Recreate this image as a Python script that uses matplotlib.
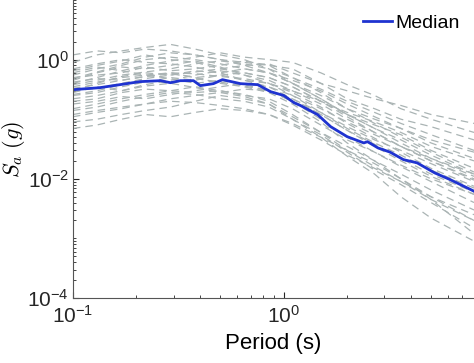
"""
Response spectra of the record set with their median
"""
import matplotlib
matplotlib.use('Agg')
import matplotlib.pyplot as plt
from matplotlib.ticker import LogLocator, NullFormatter

plt.rcParams['font.family'] = ['Liberation Sans', 'DejaVu Sans']

# periods (s) shared by every record
periods = [0.1, 0.13, 0.17, 0.22, 0.29, 0.38, 0.5, 0.65, 0.85, 1.1,
           1.5, 2.0, 2.7, 3.6, 5.0, 8.0]

# spectral accelerations (g), one row per ground motion
records = [
    [0.55, 0.70, 0.85, 1.10, 1.30, 1.20, 1.00, 0.90, 0.80, 0.70, 0.40, 0.30, 0.22, 0.17, 0.12, 0.085],
    [0.30, 0.40, 0.52, 0.60, 0.55, 0.62, 0.70, 0.80, 0.85, 0.60, 0.40, 0.22, 0.15, 0.10, 0.075, 0.045],
    [0.12, 0.14, 0.16, 0.18, 0.20, 0.19, 0.17, 0.15, 0.12, 0.08, 0.045, 0.025, 0.015, 0.009, 0.005, 0.0025],
    [0.45, 0.60, 0.75, 0.70, 0.80, 0.95, 0.75, 0.55, 0.40, 0.25, 0.13, 0.070, 0.040, 0.025, 0.014, 0.007],
    [0.25, 0.28, 0.35, 0.42, 0.50, 0.45, 0.55, 0.60, 0.50, 0.35, 0.20, 0.12, 0.080, 0.055, 0.030, 0.015],
    [0.90, 1.20, 1.40, 1.60, 1.80, 1.50, 1.20, 1.00, 0.70, 0.40, 0.22, 0.12, 0.070, 0.045, 0.025, 0.012],
    [0.20, 0.22, 0.28, 0.32, 0.30, 0.28, 0.30, 0.26, 0.20, 0.12, 0.060, 0.030, 0.016, 0.009, 0.0045, 0.002],
    [0.60, 0.75, 0.65, 0.80, 0.95, 1.10, 1.30, 1.10, 1.00, 0.90, 0.60, 0.38, 0.25, 0.15, 0.10, 0.06],
    [0.15, 0.18, 0.22, 0.26, 0.30, 0.35, 0.30, 0.25, 0.22, 0.15, 0.080, 0.045, 0.028, 0.016, 0.009, 0.004],
    [0.35, 0.42, 0.50, 0.55, 0.48, 0.40, 0.45, 0.38, 0.30, 0.20, 0.10, 0.050, 0.028, 0.017, 0.010, 0.0055],
    [0.50, 0.55, 0.60, 0.75, 0.65, 0.70, 0.80, 0.95, 0.80, 0.50, 0.28, 0.15, 0.085, 0.050, 0.028, 0.013],
    [0.09, 0.10, 0.12, 0.14, 0.16, 0.20, 0.25, 0.22, 0.18, 0.11, 0.060, 0.035, 0.020, 0.012, 0.0065, 0.0030],
    [0.40, 0.50, 0.65, 0.55, 0.60, 0.50, 0.40, 0.35, 0.28, 0.18, 0.090, 0.040, 0.020, 0.010, 0.0045, 0.0012],
    [0.28, 0.35, 0.30, 0.38, 0.45, 0.55, 0.65, 0.55, 0.45, 0.30, 0.18, 0.10, 0.060, 0.035, 0.020, 0.010],
    [0.70, 0.85, 1.00, 0.90, 0.85, 0.75, 0.60, 0.45, 0.35, 0.22, 0.12, 0.065, 0.035, 0.020, 0.011, 0.0055],
    [0.18, 0.20, 0.24, 0.22, 0.26, 0.30, 0.35, 0.40, 0.35, 0.25, 0.15, 0.090, 0.055, 0.035, 0.022, 0.012],
    [0.33, 0.38, 0.45, 0.52, 0.60, 0.58, 0.52, 0.48, 0.40, 0.28, 0.16, 0.085, 0.048, 0.028, 0.015, 0.0075],
    [0.07, 0.08, 0.10, 0.12, 0.11, 0.13, 0.15, 0.14, 0.12, 0.085, 0.050, 0.030, 0.018, 0.010, 0.0050, 0.0020],
    [1.20, 1.40, 1.30, 1.50, 1.40, 1.20, 1.00, 0.80, 0.60, 0.40, 0.25, 0.15, 0.10, 0.070, 0.045, 0.028],
    [0.22, 0.25, 0.30, 0.36, 0.40, 0.34, 0.28, 0.24, 0.18, 0.10, 0.050, 0.024, 0.012, 0.005, 0.0022, 0.0009],
    [0.38, 0.45, 0.55, 0.62, 0.70, 0.85, 0.95, 0.85, 0.70, 0.50, 0.32, 0.20, 0.13, 0.085, 0.055, 0.030],
    [0.26, 0.30, 0.38, 0.45, 0.40, 0.48, 0.42, 0.36, 0.30, 0.22, 0.13, 0.075, 0.045, 0.030, 0.018, 0.009],
    [0.14, 0.16, 0.20, 0.24, 0.28, 0.26, 0.22, 0.20, 0.16, 0.10, 0.055, 0.028, 0.014, 0.008, 0.0040, 0.0015],
    [0.48, 0.62, 0.80, 1.00, 1.10, 1.00, 0.85, 0.70, 0.60, 0.45, 0.30, 0.18, 0.11, 0.070, 0.040, 0.022],
    [0.30, 0.33, 0.40, 0.48, 0.55, 0.65, 0.60, 0.70, 0.60, 0.40, 0.22, 0.12, 0.070, 0.040, 0.022, 0.011],
    [0.42, 0.48, 0.45, 0.52, 0.58, 0.50, 0.55, 0.45, 0.40, 0.30, 0.20, 0.13, 0.090, 0.060, 0.035, 0.020],
    [0.11, 0.13, 0.15, 0.18, 0.22, 0.25, 0.28, 0.32, 0.30, 0.20, 0.12, 0.065, 0.038, 0.022, 0.012, 0.0060],
    [0.65, 0.80, 0.95, 1.20, 1.00, 0.90, 0.70, 0.60, 0.50, 0.35, 0.20, 0.11, 0.060, 0.035, 0.020, 0.0095],
]

# median spectrum
median_periods = [0.1, 0.134, 0.167, 0.208, 0.26, 0.29, 0.323, 0.373, 0.402, 0.464,
                  0.512, 0.623, 0.752, 0.866, 1.0, 1.12, 1.2, 1.45, 1.67, 2.0,
                  2.4, 2.5, 2.8, 3.2, 3.7, 4.3, 5.2, 6.2, 8.0]
median_sa = [0.313, 0.338, 0.38, 0.427, 0.443, 0.41, 0.443, 0.443, 0.366, 0.395,
             0.461, 0.395, 0.38, 0.29, 0.25, 0.189, 0.17, 0.119, 0.075, 0.051,
             0.040, 0.042, 0.033, 0.028, 0.021, 0.0185, 0.0126, 0.0096, 0.0062]

fig = plt.figure(figsize=(4.74, 3.63), dpi=100)
ax = fig.add_axes([0.154, 0.179, 0.846, 0.821])

for sa in records:
    ax.plot(periods, sa, color='#aab4b4', lw=0.9, ls=(0, (6, 4)))
ax.plot(median_periods, median_sa, color='#1f33d0', lw=2.0, label='Median')

ax.set_xscale('log')
ax.set_yscale('log')
ax.set_xlim(0.1, 8)
ax.set_ylim(1e-4, 10)

ax.set_yticks([1e-4, 1e-2, 1e0])
ax.yaxis.set_minor_locator(LogLocator(base=10, subs=[1, 2, 3, 4, 5, 6, 7, 8, 9], numticks=20))
ax.yaxis.set_minor_formatter(NullFormatter())
ax.set_xticks([0.1, 1])
ax.xaxis.set_minor_locator(LogLocator(base=10, subs=[2, 3, 4, 5, 6, 7, 8, 9], numticks=20))
ax.xaxis.set_minor_formatter(NullFormatter())

ax.tick_params(which='both', direction='in', colors='#262626', labelsize=15)
ax.tick_params(which='major', length=4)
ax.tick_params(which='minor', length=2)
ax.tick_params(axis='x', which='major', pad=5)
ax.tick_params(axis='y', which='major', pad=3)

for side in ('top', 'right'):
    ax.spines[side].set_visible(False)
for side in ('left', 'bottom'):
    ax.spines[side].set_color('#555555')
    ax.spines[side].set_linewidth(0.8)

ax.set_xlabel('Period (s)', fontsize=16)
ax.xaxis.set_label_coords(0.5, -0.151)
ax.xaxis.label.set_va('center')
ax.set_ylabel(r'$S_a\ (g)$', fontsize=16, math_fontfamily='cm')
ax.yaxis.set_label_coords(-0.148, 0.5)
ax.yaxis.label.set_va('center')

ax.legend(loc='center right', bbox_to_anchor=(0.97, 0.937), bbox_transform=fig.transFigure,
          frameon=False, fontsize=14, handlelength=1.45, handletextpad=0.2,
          borderpad=0, borderaxespad=0)

fig.savefig('out.png', dpi=100)
